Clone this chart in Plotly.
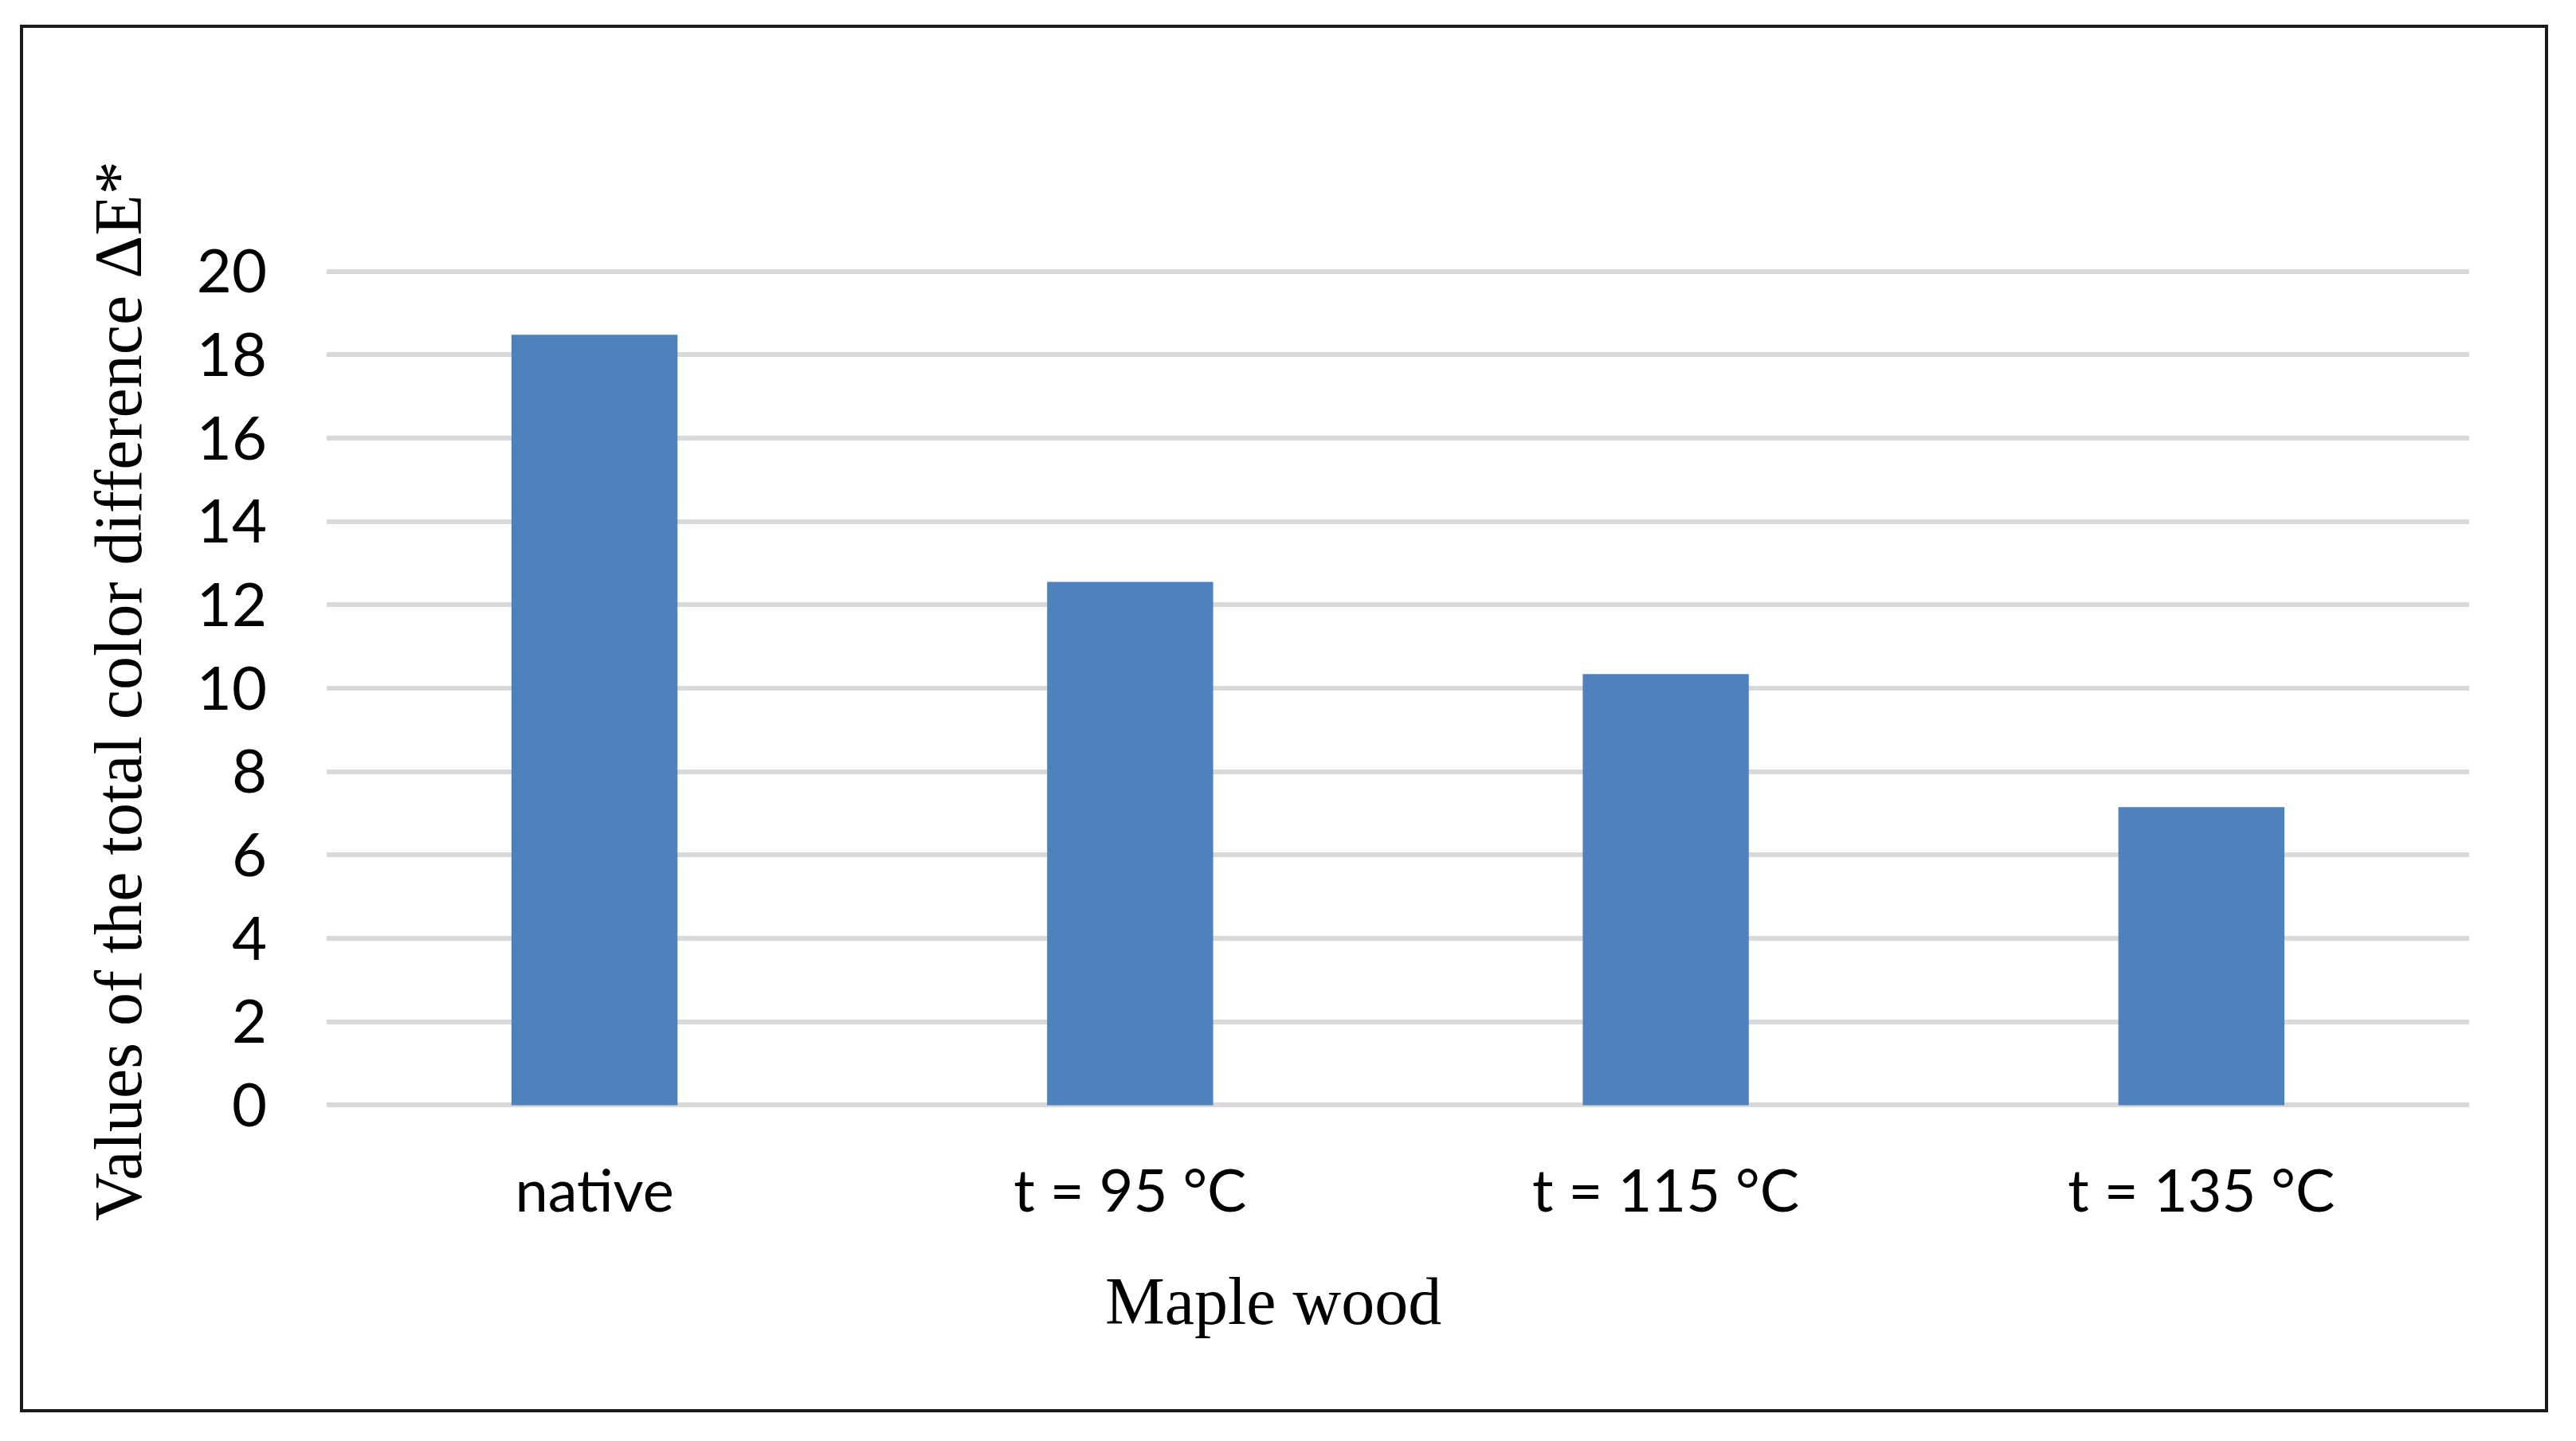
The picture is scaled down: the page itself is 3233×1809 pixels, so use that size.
import plotly.graph_objects as go

categories = ["native", "t = 95 °C", "t = 115 °C", "t = 135 °C"]
delta_e = [18.48, 12.55, 10.34, 7.15]
y_ticks = [0, 2, 4, 6, 8, 10, 12, 14, 16, 18, 20]

x_title = "Maple wood"
y_title = "Values of the total color difference ΔE*"

OFF = 8  # page body margin
W, H = 3233 - 2 * OFF, 1809 - 2 * OFF
# plot area in page pixels: x 410..3099, y 339..1389
PX0, PX1, PY0, PY1 = 410, 3099, 339, 1389
L = PX0 - OFF
T = PY0 - OFF
R = W - (PX1 - OFF)
B = H - (PY1 - OFF)
pw, ph = PX1 - PX0, PY1 - PY0

def px_x(x):
    return (x - PX0) / pw

def px_y(y):
    return (PY1 - y) / ph

fig = go.Figure()
fig.add_trace(go.Bar(
    x=categories, y=delta_e,
    marker=dict(color="#4F81BD", line=dict(width=0)),
))

tick_font = dict(size=74, family="Lato, Calibri, sans-serif", color="#000")

fig.update_layout(
    width=W, height=H,
    margin=dict(l=L, r=R, t=T, b=B, autoexpand=False),
    paper_bgcolor="white", plot_bgcolor="white",
    bargap=0.69,
    showlegend=False,
    font=dict(family="Lato, Calibri, sans-serif", color="#000000"),
    xaxis=dict(
        showgrid=False, zeroline=False, showline=False,
        ticks="", tickfont=tick_font,
        ticklabelstandoff=57,
    ),
    yaxis=dict(
        range=[-0.03, 20.03], tickvals=y_ticks,
        showgrid=True, gridcolor="#D9D9D9", gridwidth=6,
        zeroline=False, showline=False, ticks="",
        tickfont=dict(size=76, family="Lato, Calibri, sans-serif", color="#000"),
        ticklabelstandoff=74,
    ),
    shapes=[
        dict(type="rect", xref="paper", yref="paper",
             x0=px_x(27), x1=px_x(3196), y0=px_y(1771), y1=px_y(33),
             line=dict(color="#1a1a1a", width=4), fillcolor="rgba(0,0,0,0)", layer="below"),
    ],
    annotations=[
        dict(text=x_title, xref="paper", yref="paper",
             x=px_x(1598), y=px_y(1633), xanchor="center", yanchor="middle",
             showarrow=False,
             font=dict(family="Liberation Serif, Times New Roman, serif", size=84, color="#000")),
        dict(text=y_title, xref="paper", yref="paper",
             x=px_x(148), y=px_y(868), xanchor="center", yanchor="middle",
             textangle=-90, showarrow=False,
             font=dict(family="Liberation Serif, Times New Roman, serif", size=84, color="#000")),
    ],
)

fig.write_html("out.html")
